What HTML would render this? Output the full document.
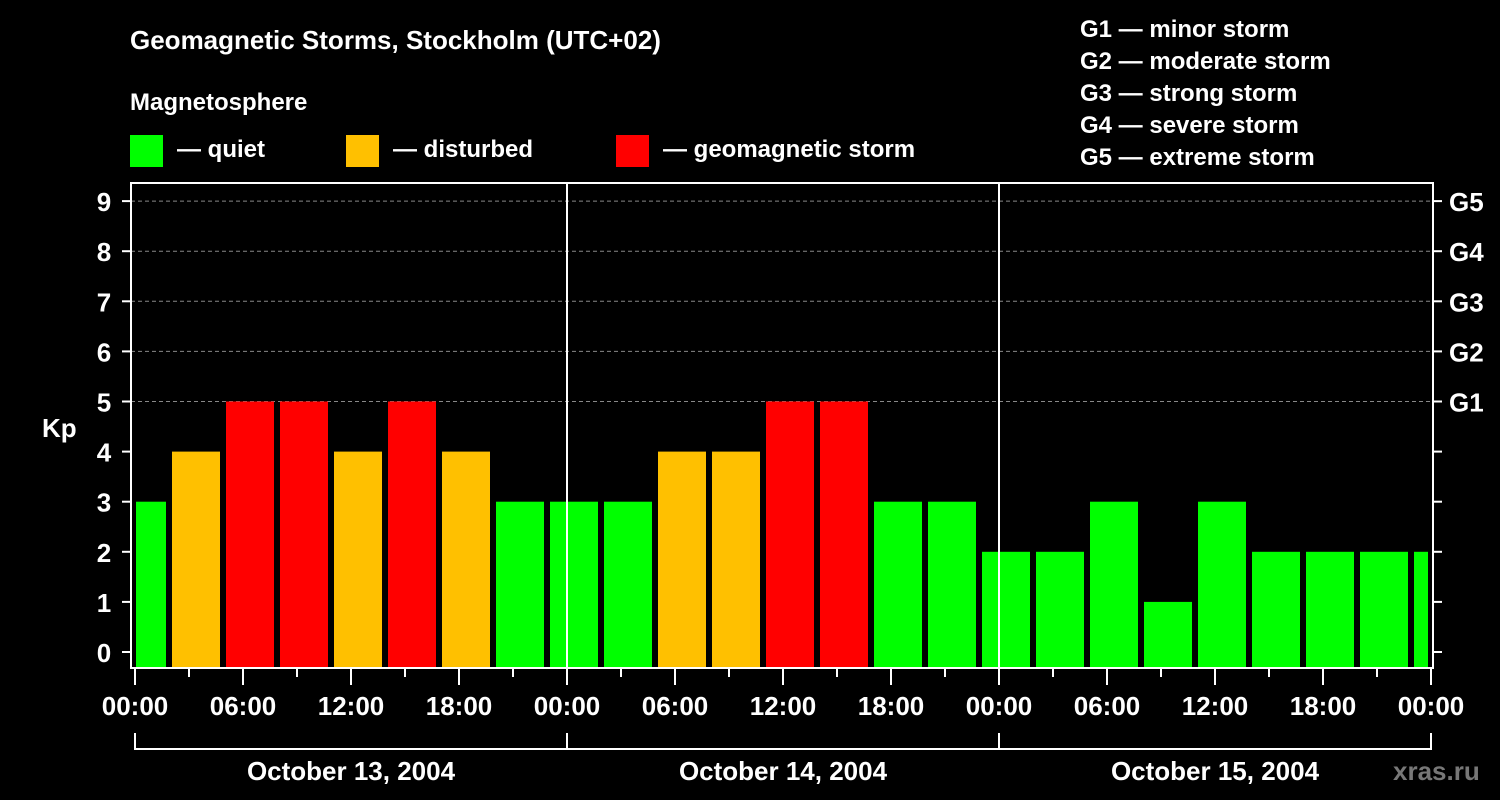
<!DOCTYPE html>
<html><head><meta charset="utf-8">
<style>
html,body{margin:0;padding:0;background:#000;width:1500px;height:800px;overflow:hidden}
svg{display:block;font-family:"Liberation Sans",Arial,sans-serif;font-weight:bold}
</style></head>
<body>
<svg id="chart" width="1500" height="800" viewBox="0 0 1500 800" xmlns="http://www.w3.org/2000/svg">
<rect width="1500" height="800" fill="#000"/>
<text x="130" y="49" fill="#fff" font-size="26">Geomagnetic Storms, Stockholm (UTC+02)</text>
<text x="130" y="110" fill="#fff" font-size="24">Magnetosphere</text>
<g><rect x="130" y="135" width="33" height="32" fill="#00ff00"/><text x="177" y="157" fill="#fff" font-size="24">— quiet</text></g>
<g><rect x="346" y="135" width="33" height="32" fill="#ffc000"/><text x="393" y="157" fill="#fff" font-size="24">— disturbed</text></g>
<g><rect x="616" y="135" width="33" height="32" fill="#ff0000"/><text x="663" y="157" fill="#fff" font-size="24">— geomagnetic storm</text></g>
<g fill="#fff" font-size="24">
<text x="1080" y="37">G1 — minor storm</text>
<text x="1080" y="69">G2 — moderate storm</text>
<text x="1080" y="101">G3 — strong storm</text>
<text x="1080" y="133">G4 — severe storm</text>
<text x="1080" y="165">G5 — extreme storm</text>
</g>
<text x="42" y="437" fill="#fff" font-size="26">Kp</text>
<text x="1393" y="780" fill="#777" font-size="26">xras.ru</text>
<g id="grid"></g>
<g id="bars"></g>
<g id="axes"></g>
</svg>
<script>
const kpValues = [3,4,5,5,4,5,4,3,3,3,4,4,5,5,3,3,2,2,3,1,3,2,2,2,2];
const startHour = -1; // bars start 23:00 previous day local
const barHours = 3;
const dayLabels = ["October 13, 2004","October 14, 2004","October 15, 2004"];
const hourLabels = ["00:00","06:00","12:00","18:00"];
const kpTicks = [0,1,2,3,4,5,6,7,8,9];
const gLabels = ["G1","G2","G3","G4","G5"];

const NS="http://www.w3.org/2000/svg";
const L=131,R=1433,T=183,B=668;
const X0=135,PXH=18;
const xOf=h=>X0+h*PXH;
const yOf=v=>652-v*50.1;
function mk(tag,attrs,parent){const e=document.createElementNS(NS,tag);for(const k in attrs)e.setAttribute(k,attrs[k]);parent.appendChild(e);return e;}
const grid=document.getElementById('grid'),bars=document.getElementById('bars'),axes=document.getElementById('axes');

// grid lines for G levels
gLabels.forEach((g,i)=>{
  const y=yOf(5+i);
  const ln=mk('line',{x1:L,x2:R,y1:y,y2:y,stroke:'#888','stroke-dasharray':'4,3','stroke-width':1},grid);
  
  
  const t=mk('text',{x:1449,y:y+10,fill:'#fff','font-size':26},axes);
  t.textContent=g;
  
  
});
// bars
kpValues.forEach((v,i)=>{
  let x1=xOf(startHour+i*barHours)+1,x2=xOf(startHour+(i+1)*barHours)-5;
  x1=Math.max(x1,L+5);x2=Math.min(x2,R-5);
  const col=v>=5?'#ff0000':(v>=4?'#ffc000':'#00ff00');
  const r=mk('rect',{x:x1,y:yOf(v),width:x2-x1,height:B-1-yOf(v),fill:col},bars);
  
  
});
// frame
const fr=mk('rect',{x:L,y:T,width:R-L,height:B-T,fill:'none',stroke:'#fff','stroke-width':2},axes);


// day separators
for(let d=1;d<3;d++){
  const ln=mk('line',{x1:xOf(24*d),x2:xOf(24*d),y1:T,y2:B,stroke:'#fff','stroke-width':2},axes);
  
  
}
// y ticks
kpTicks.forEach(v=>{
  const y=yOf(v);
  mk('line',{x1:122,x2:L,y1:y,y2:y,stroke:'#fff','stroke-width':2},axes);
  mk('line',{x1:R,x2:1442,y1:y,y2:y,stroke:'#fff','stroke-width':2},axes);
  const t=mk('text',{x:104,y:y+10,fill:'#fff','font-size':26,'text-anchor':'middle'},axes);
  t.textContent=v;
  
  
});
// x ticks
for(let h=0;h<=72;h+=3){
  const major=h%6===0;
  mk('line',{x1:xOf(h),x2:xOf(h),y1:B,y2:major?685:677,stroke:'#fff','stroke-width':2},axes);
  if(major){
    const t=mk('text',{x:xOf(h),y:715,fill:'#fff','font-size':26,'text-anchor':'middle'},axes);
    t.textContent=hourLabels[(h%24)/6];
    
    
  }
}
// day brackets
dayLabels.forEach((d,i)=>{
  const a=xOf(24*i),b=xOf(24*(i+1));
  mk('polyline',{points:`${a},733 ${a},749 ${b},749 ${b},733`,fill:'none',stroke:'#fff','stroke-width':2},axes);
  const t=mk('text',{x:(a+b)/2,y:780,fill:'#fff','font-size':26,'text-anchor':'middle'},axes);
  t.textContent=d;
  
  
});
</script>
</body></html>
